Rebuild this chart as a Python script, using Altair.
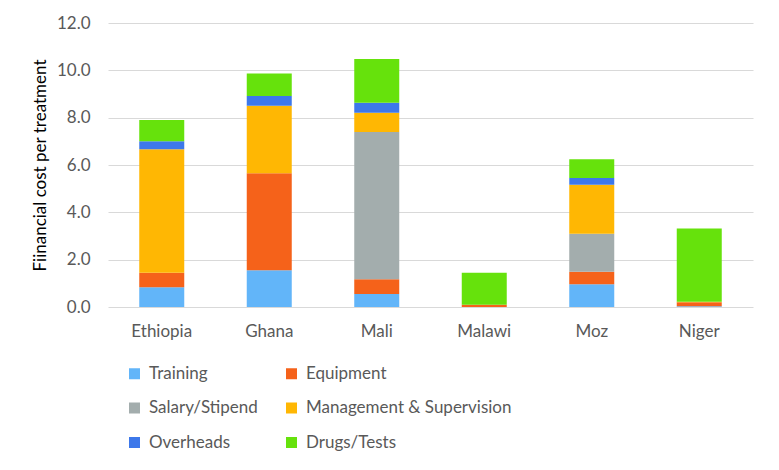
import altair as alt
import pandas as pd

countries = ["Ethiopia", "Ghana", "Mali", "Malawi", "Moz", "Niger"]
categories = ["Training", "Equipment", "Salary/Stipend", "Management & Supervision", "Overheads", "Drugs/Tests"]
colors = ["#62B5F9", "#F5621A", "#A3ADAD", "#FFB703", "#3D78EA", "#66E20C"]

training   = [0.83, 1.55, 0.55, 0.00, 0.96, 0.03]
equipment  = [0.62, 4.10, 0.62, 0.10, 0.53, 0.17]
salary     = [0.00, 0.00, 6.22, 0.00, 1.60, 0.00]
management = [5.22, 2.85, 0.82, 0.00, 2.08, 0.02]
overheads  = [0.33, 0.42, 0.42, 0.00, 0.28, 0.00]
drugs      = [0.90, 0.95, 1.85, 1.35, 0.79, 3.10]

series = [training, equipment, salary, management, overheads, drugs]
rows = []
for ci, (cat, vals) in enumerate(zip(categories, series)):
    for country, v in zip(countries, vals):
        rows.append({"country": country, "category": cat, "value": v, "idx": ci})
df = pd.DataFrame(rows)

FONT = "Lato"
TXT = "#595959"

chart = alt.Chart(df).mark_bar(size=45).encode(
    x=alt.X("country:N", sort=countries, title=None,
            axis=alt.Axis(labelAngle=0, labelFontSize=17, labelColor=TXT, labelFont=FONT,
                          domain=False, ticks=False, labelPadding=16)),
    y=alt.Y("value:Q", stack="zero", title="Fiinancial cost per treatment",
            scale=alt.Scale(domain=[0, 12]),
            axis=alt.Axis(values=[0, 2, 4, 6, 8, 10, 12], format=".1f", labelFontSize=17,
                          labelColor=TXT, labelFont=FONT, domain=False, ticks=False,
                          labelPadding=18, gridColor="#D9D9D9", gridWidth=1,
                          titleFontSize=17, titleFont=FONT, titleColor="#000000",
                          titleFontWeight="normal", titlePadding=7)),
    color=alt.Color("category:N", sort=categories,
                    scale=alt.Scale(domain=categories, range=colors),
                    legend=alt.Legend(title=None, orient="none", legendX=18, legendY=342,
                                      direction="horizontal",
                                      columns=2, columnPadding=25, rowPadding=16.5,
                                      symbolType="square", symbolSize=121, symbolStrokeWidth=0,
                                      labelFontSize=17, labelColor=TXT, labelFont=FONT,
                                      labelLimit=400, labelOffset=6, padding=0)),
    order=alt.Order("idx:Q", sort="ascending"),
).properties(
    width=645, height=284,
    autosize=alt.AutoSizeParams(type="none"),
    padding={"left": 100, "top": 15, "right": 10, "bottom": 150},
).configure_view(stroke=None)

chart.save("out.html", embed_options={"renderer": "svg", "actions": False})
